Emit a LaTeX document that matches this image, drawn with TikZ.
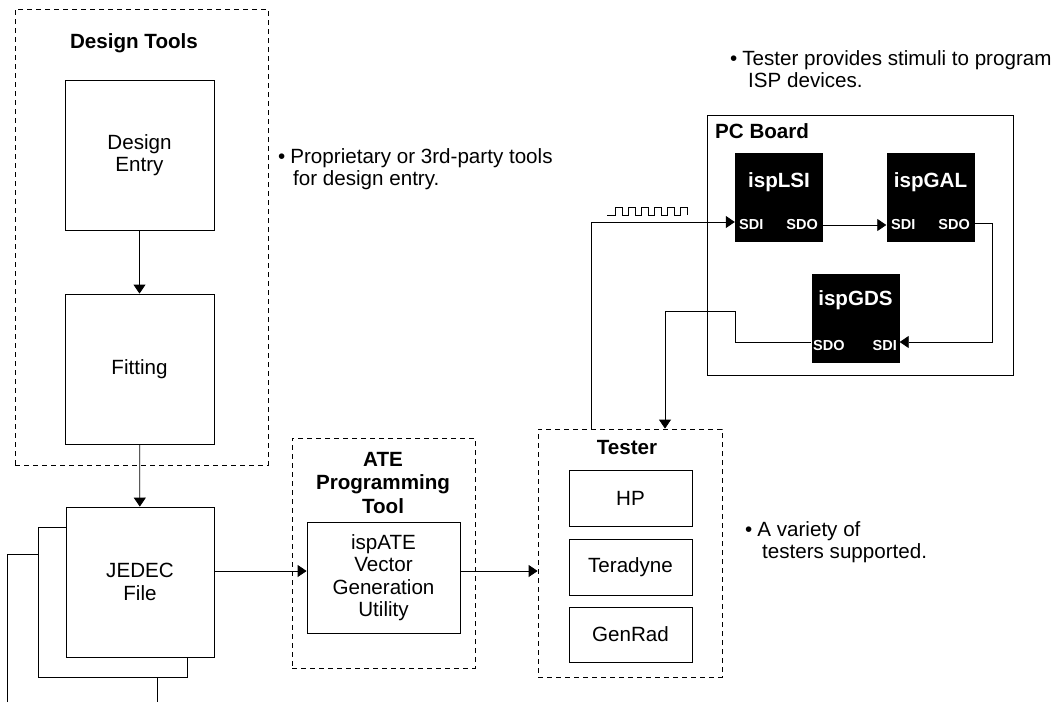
\documentclass[tikz,border=0pt]{standalone}
\usepackage{fontspec}
\setmainfont{Liberation Sans}
\usetikzlibrary{arrows.meta}
\begin{document}
\begin{tikzpicture}[x=1pt,y=-1pt,
 every node/.style={font=\fontsize{20.6}{22.5}\selectfont, inner sep=0pt},
 box/.style={draw, line width=0.8pt, fill=white, align=center},
 dbox/.style={draw, line width=0.8pt, dash pattern=on 5pt off 4pt},
 chip/.style={fill=black, minimum width=88pt, minimum height=89pt},
 chiptitle/.style={text=white, font=\fontsize{20.6}{22}\selectfont\bfseries},
 pin/.style={text=white, font=\fontsize{14.5}{16}\selectfont\bfseries},
 title/.style={font=\fontsize{20.6}{23.5}\selectfont\bfseries, align=center},
 note/.style={align=left, anchor=west},
 wire/.style={line width=0.8pt},
 arr/.style={wire, -{Triangle[length=9pt,width=12pt]}},
]
\useasboundingbox (0,0) rectangle (1063,702);

% Design tools
\node[dbox, minimum width=253pt, minimum height=456pt] (dt) at (141.5,237) {};
\node[title] (dtt) at (134,43) {Design Tools};
\node[box, minimum width=149pt, minimum height=150pt] (de) at (139.5,155) {Design\\Entry};
\node[box, minimum width=149pt, minimum height=150pt] (fit) at (139.5,369) {Fitting};
\draw[arr] (de) -- (fit);

% JEDEC stack
\coordinate (j3a) at (7,702);
\coordinate (j3b) at (7,554);
\coordinate (j3c) at (38,554);
\coordinate (j3d) at (157,677);
\coordinate (j3e) at (157,702);
\draw[wire] (j3a) -- (j3b) -- (j3c);
\draw[wire] (j3d) -- (j3e);
\node[box, minimum width=149pt, minimum height=150pt] (j2) at (112.5,602) {};
\node[box, minimum width=148pt, minimum height=150pt] (jedec) at (140,582) {JEDEC\\File};
\draw[arr] (fit) -- (jedec);

% ATE
\node[dbox, minimum width=183pt, minimum height=230pt] (ated) at (383.5,553) {};
\node[title] (atet) at (383,483) {ATE\\Programming\\Tool};
\node[box, minimum width=153pt, minimum height=111pt] (ate) at (383.5,577.5) {ispATE\\Vector\\Generation\\Utility};
\coordinate (yA) at (0,571);
\draw[arr] (jedec.east |- yA) -- (ate.west |- yA);

% Tester
\node[dbox, minimum width=184pt, minimum height=248pt] (tst) at (630,553) {};
\node[title] (tstt) at (627,448) {Tester};
\node[box, minimum width=123pt, minimum height=56pt] (hp) at (630.5,498) {HP};
\node[box, minimum width=123pt, minimum height=56pt] (ter) at (630.5,567) {Teradyne};
\node[box, minimum width=123pt, minimum height=55pt] (gen) at (630.5,634.5) {GenRad};
\draw[arr] (ate.east |- yA) -- (tst.west |- yA);

% PC board
\node[draw, line width=0.8pt, minimum width=306pt, minimum height=260pt] (pcb) at (860,245) {};
\node[title, anchor=west] (pcbt) at (715,131) {PC Board};

\node[chip] (lsi) at (779,197.5) {};
\node[chiptitle] (lsit) at (779,182) {ispLSI};
\node[pin, anchor=west] (lsisdi) at (739,225) {SDI};
\node[pin, anchor=east] (lsisdo) at (818,225) {SDO};

\node[chip] (gal) at (930.5,197.5) {};
\node[chiptitle] (galt) at (930.5,182) {ispGAL};
\node[pin, anchor=west] (galsdi) at (891,225) {SDI};
\node[pin, anchor=east] (galsdo) at (970,225) {SDO};

\node[chip] (gds) at (855.5,318) {};
\node[chiptitle] (gdst) at (855.5,300) {ispGDS};
\node[pin, anchor=west] (gdssdo) at (813,346) {SDO};
\node[pin, anchor=east] (gdssdi) at (897,346) {SDI};

% wires
\coordinate (w1) at (591,222);
\draw[arr] (tst.north -| w1) -- (w1) -- (lsi.west |- w1);
\coordinate (yB) at (0,225);
\draw[arr] (lsi.east |- yB) -- (gal.west |- yB);
\coordinate (c1) at (992,223);
\coordinate (c2) at (992,342);
\draw[arr] (gal.east |- c1) -- (c1) -- (c2) -- (gds.east |- c2);
\coordinate (c3) at (735,342);
\coordinate (c4) at (735,311);
\coordinate (c5) at (665,311);
\draw[arr] (gds.west |- c3) -- (c3) -- (c4) -- (c5) -- (tst.north -| c5);

% clock waveform
\draw[line width=0.7pt] (607,215) foreach \k in {0,...,5} { -- ({615+13*\k},215) -- ({615+13*\k},207) -- ({622+13*\k},207) -- ({622+13*\k},215) };

% notes
\node[note] (n1) at (278,169) {\textbullet\hspace{5pt}Proprietary or 3rd-party tools\\\hspace*{15pt}for design entry.};
\node[note] (n2) at (730,69) {\textbullet\hspace{5pt}Tester provides stimuli to program\\\hspace*{18pt}ISP devices.};
\node[note] (n3) at (745,542) {\textbullet\hspace{5pt}A variety of\\\hspace*{17pt}testers supported.};
\end{tikzpicture}
\end{document}
